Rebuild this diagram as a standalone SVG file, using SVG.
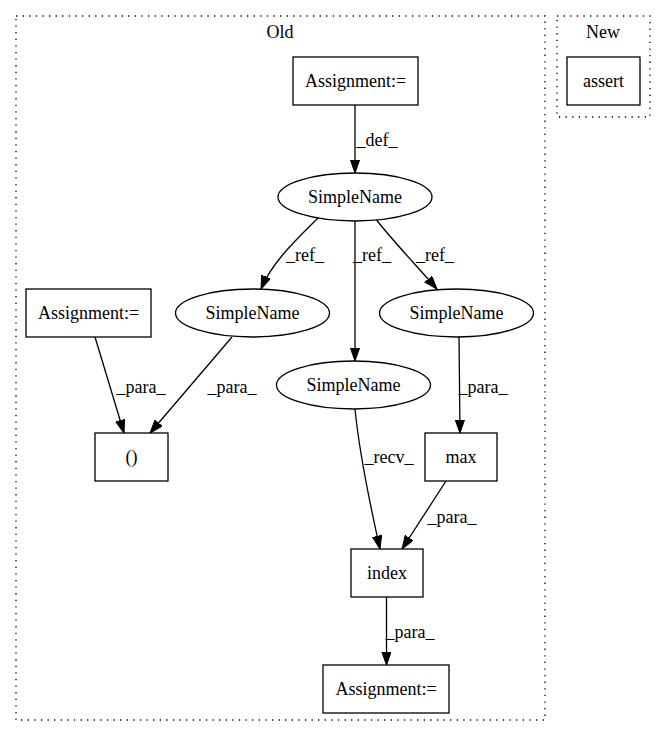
<svg xmlns="http://www.w3.org/2000/svg" width="667" height="740" viewBox="0 0 667 740">
<style>
text{font-family:"Liberation Serif","Times New Roman",serif;font-size:18px;fill:#000;text-anchor:middle}
.cl{fill:none;stroke:#000;stroke-width:1.3;stroke-dasharray:1.3,5.3}
.nd{fill:#fff;stroke:#000;stroke-width:1.3}
.ed{fill:none;stroke:#000;stroke-width:1.3;marker-end:url(#ah)}
</style>
<defs>
<marker id="ah" markerUnits="userSpaceOnUse" markerWidth="14" markerHeight="10" refX="13.3" refY="4.7" orient="auto">
<path d="M0,0 L13.3,4.7 L0,9.4 z" fill="#000" stroke="#000" stroke-width="1"/>
</marker>
</defs>
<rect width="667" height="740" fill="#fff"/>
<g id="cluster_old"><rect class="cl" x="16" y="16" width="529" height="704"/><text x="280" y="38">Old</text></g>
<g id="cluster_new"><rect class="cl" x="557" y="16" width="93" height="101"/><text x="603" y="38">New</text></g>
<g id="edges">
<path class="ed" d="M355,105 L355,173"/>
<path class="ed" d="M318,218 C297,239 272,262 261,289"/>
<path class="ed" d="M355,221 L355,361"/>
<path class="ed" d="M375,218 C391,239 416,265 437,289"/>
<path class="ed" d="M95,337 L124,433"/>
<path class="ed" d="M232,337 L150,433"/>
<path class="ed" d="M459,337 L460,433"/>
<path class="ed" d="M355,409 C359,450 369,500 380,549"/>
<path class="ed" d="M446,481 L402,549"/>
<path class="ed" d="M386.5,597 L386.5,665"/>
<text x="377" y="146">_def_</text>
<text x="305" y="261">_ref_</text>
<text x="372" y="261">_ref_</text>
<text x="435" y="261">_ref_</text>
<text x="141" y="393">_para_</text>
<text x="232" y="393">_para_</text>
<text x="483" y="393">_para_</text>
<text x="389" y="463">_recv_</text>
<text x="452" y="523">_para_</text>
<text x="410" y="638">_para_</text>
</g>
<g id="assign_top"><rect class="nd" x="293" y="57" width="125" height="48"/><text x="355.5" y="87">Assignment:=</text></g>
<g id="assert"><rect class="nd" x="567" y="57" width="73" height="48"/><text x="603.5" y="87">assert</text></g>
<g id="sn_top"><ellipse class="nd" cx="355" cy="197" rx="77" ry="24"/><text x="355" y="203">SimpleName</text></g>
<g id="assign_left"><rect class="nd" x="26" y="289" width="125" height="48"/><text x="88.5" y="319">Assignment:=</text></g>
<g id="sn_left"><ellipse class="nd" cx="252.5" cy="313" rx="77" ry="24"/><text x="252.5" y="319">SimpleName</text></g>
<g id="sn_right"><ellipse class="nd" cx="456.5" cy="313" rx="77" ry="24"/><text x="456.5" y="319">SimpleName</text></g>
<g id="sn_mid"><ellipse class="nd" cx="353.5" cy="385" rx="77" ry="24"/><text x="353.5" y="391">SimpleName</text></g>
<g id="paren"><rect class="nd" x="95" y="433" width="73" height="48"/><text x="131.5" y="463">()</text></g>
<g id="max"><rect class="nd" x="425" y="433" width="72" height="48"/><text x="461" y="463">max</text></g>
<g id="index"><rect class="nd" x="351" y="549" width="72" height="48"/><text x="387" y="579">index</text></g>
<g id="assign_bottom"><rect class="nd" x="323" y="665" width="126" height="48"/><text x="386" y="695">Assignment:=</text></g>
</svg>
